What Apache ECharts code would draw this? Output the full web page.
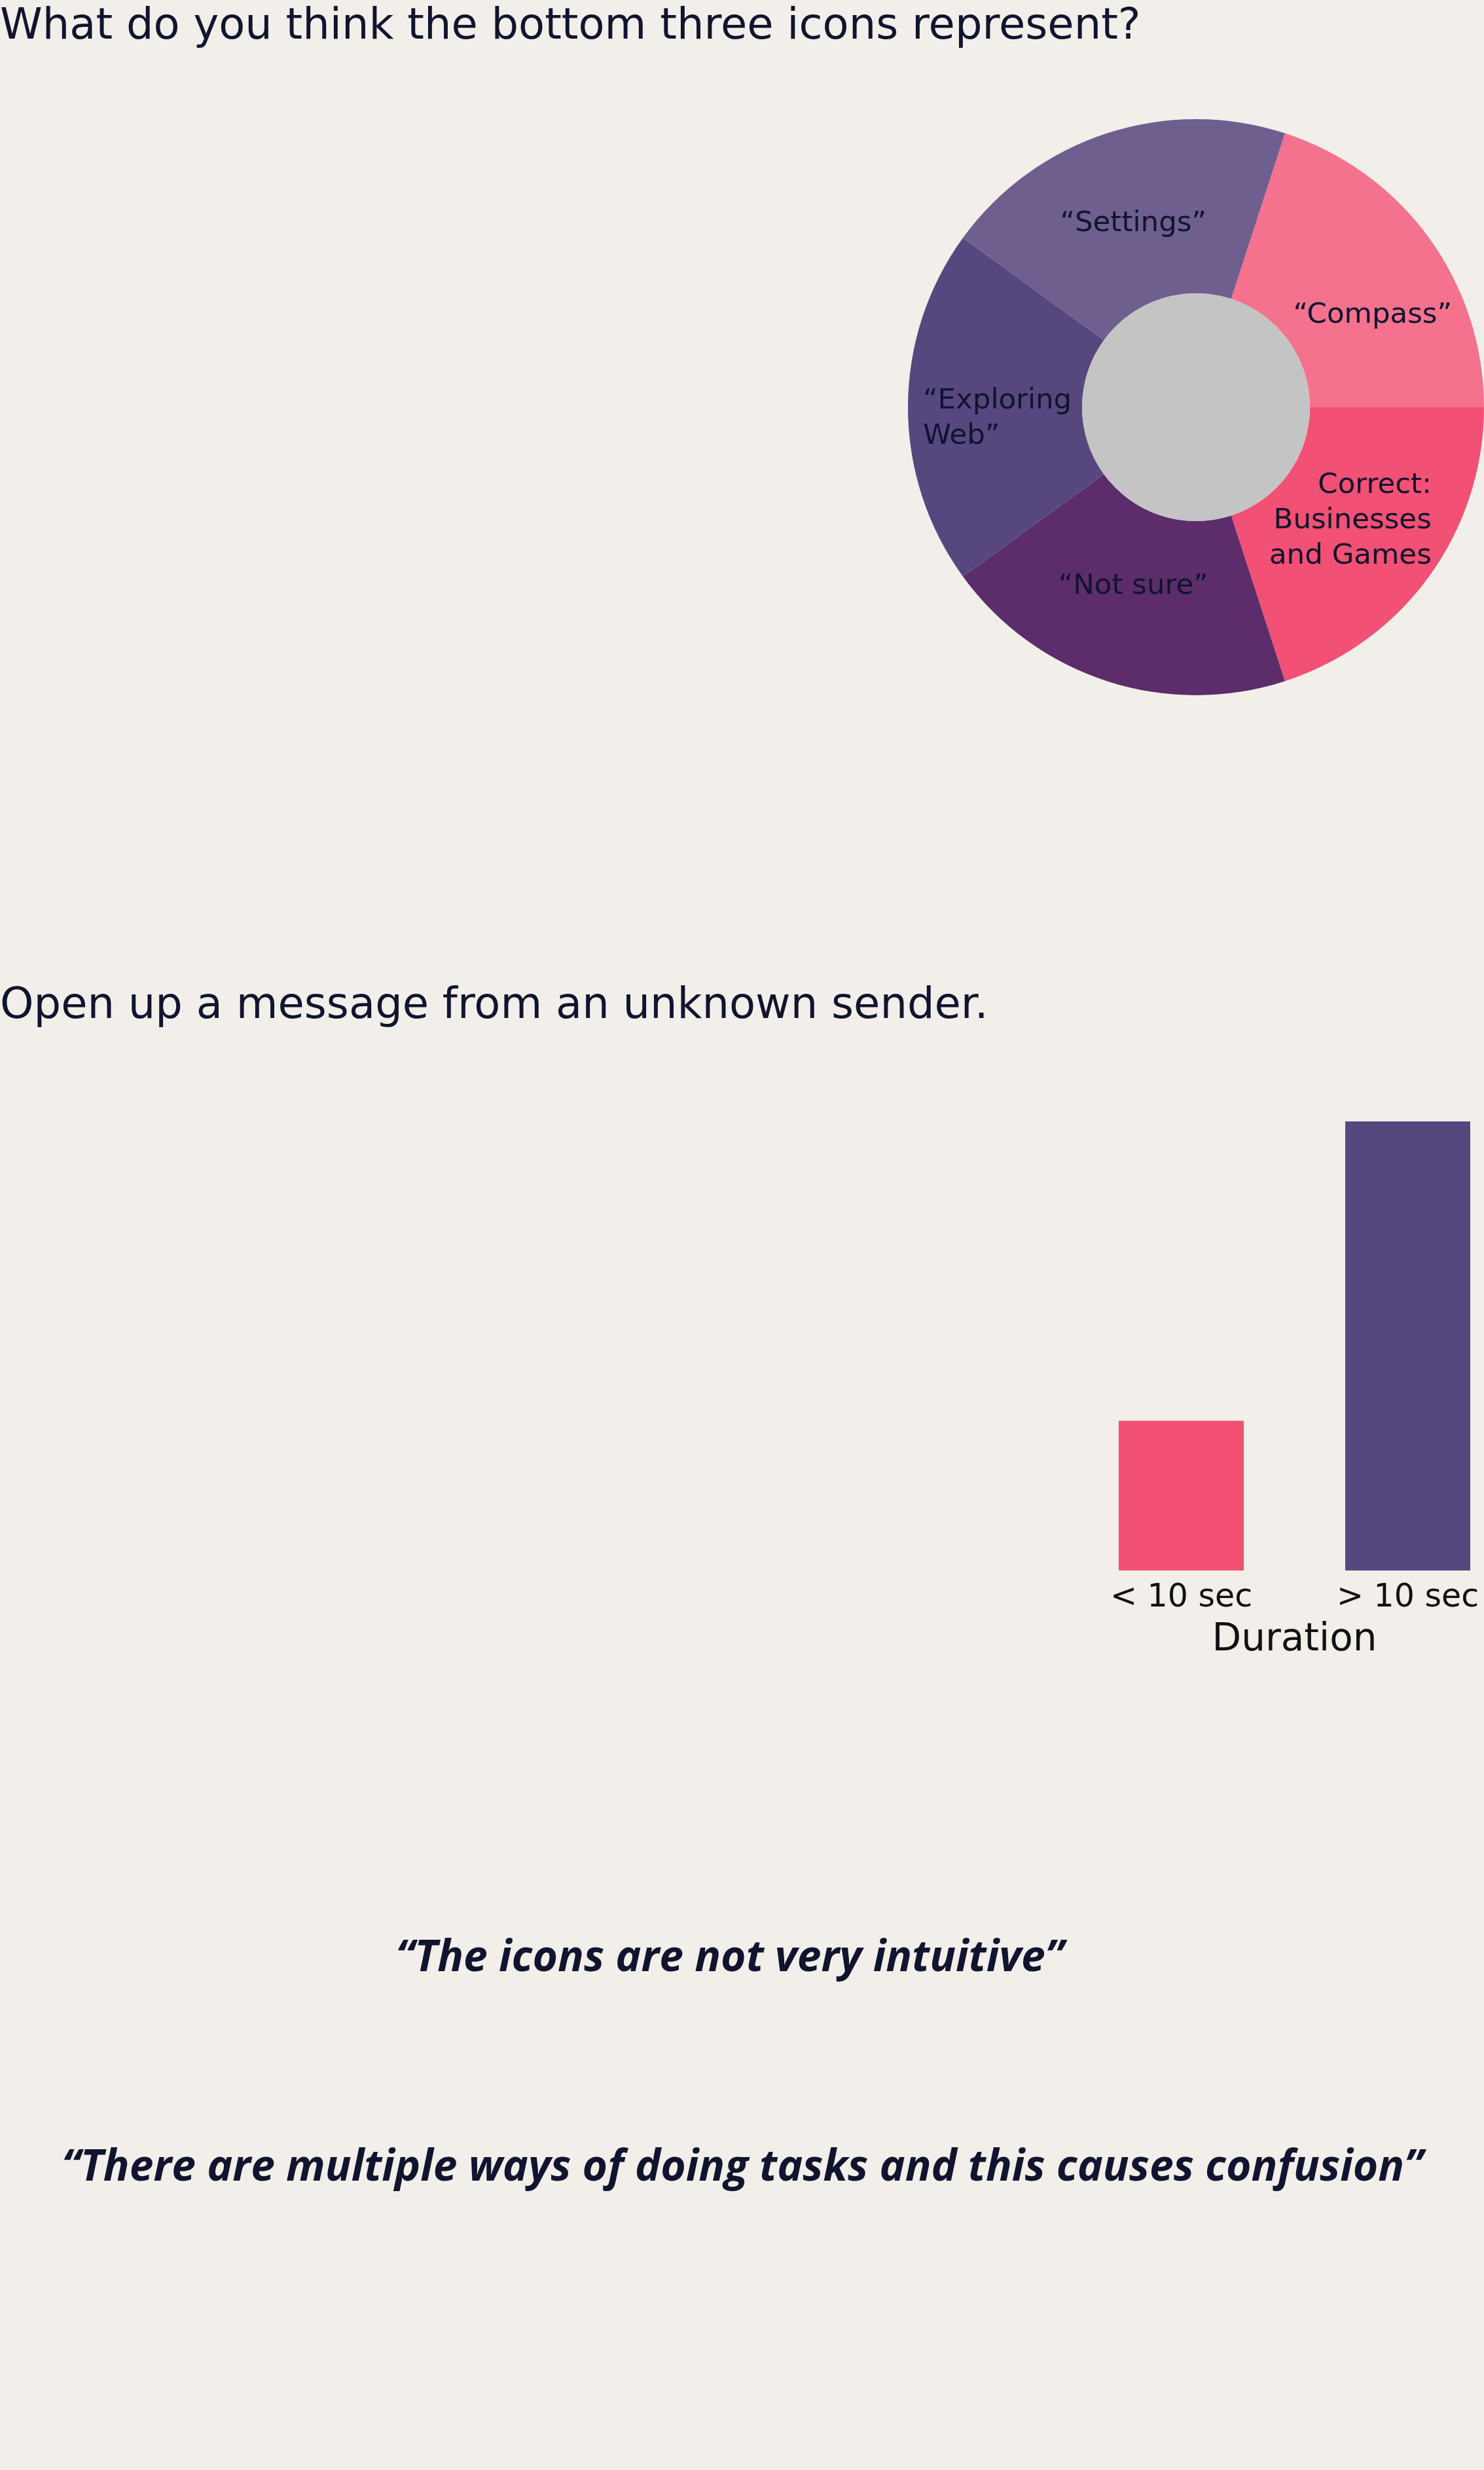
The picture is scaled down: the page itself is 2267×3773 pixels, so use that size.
<!DOCTYPE html>
<html>
<head>
<meta charset="utf-8">
<script src="https://cdn.jsdelivr.net/npm/echarts@6/dist/echarts.min.js"></script>
<style>
html,body{margin:0;padding:0;background:#F2EFEA;}
#chart{width:2267px;height:3773px;}
</style>
</head>
<body>
<div id="chart"></div>
<script>
// ---- data ----
const pieTitle = 'What do you think the bottom three icons represent?';
const pieCategories = ['“Compass”', 'Correct:\nBusinesses\nand Games', '“Not sure”', '“Exploring\nWeb”', '“Settings”'];
const pieValues = [1, 1, 1, 1, 1];

const barTitle = 'Open up a message from an unknown sender.';
const barCategories = ['< 10 sec', '> 10 sec'];
const barValues = [1, 3];
const barAxisName = 'Duration';

const quotes = ['“The icons are not very intuitive”', '“There are multiple ways of doing tasks and this causes confusion”'];

// ---- styles ----
const BG = '#F2EFEA';
const INK = '#10142E';
const pieColors = ['#F4728E', '#F25074', '#5C2D6A', '#56487F', '#6E5F8F'];
const barColors = ['#F25074', '#56487F'];
const FONT = 'DejaVu Sans';
const QFONT = 'Open Sans';
const LABEL_SIZE = 43.5;

const pieLabelStyles = [
  { offset: [19, 42] },
  { offset: [-17, -9], rich: 'r' },
  { offset: [0, -21] },
  { offset: [9, 18], rich: 'l' },
  { offset: [0, 15] }
];

function richWrap(text, key) {
  return text.split('\n').map(s => '{' + key + '|' + s + '}').join('\n');
}

const pieData = pieCategories.map((name, i) => {
  const st = pieLabelStyles[i];
  return {
    name: name,
    value: pieValues[i],
    itemStyle: { color: pieColors[i] },
    label: {
      offset: st.offset,
      formatter: st.rich ? richWrap(name, st.rich) : name
    }
  };
});

const chart = echarts.init(document.getElementById('chart'), null, { renderer: 'canvas' });
const labelRich = {
  r: { width: 252, align: 'right', fontSize: LABEL_SIZE, lineHeight: 54, color: INK, fontFamily: FONT },
  l: { width: 232, align: 'left', fontSize: LABEL_SIZE, lineHeight: 54, color: INK, fontFamily: FONT }
};

chart.setOption({
  backgroundColor: BG,
  animation: false,
  graphic: [
    { type: 'text', left: 0, top: 9, style: { text: pieTitle, fontSize: 65.5, fontFamily: FONT, fill: INK } },
    { type: 'text', left: 0, top: 1505, style: { text: barTitle, fontSize: 65.5, fontFamily: FONT, fill: INK } },
    { type: 'text', x: 1115, y: 2992, style: { text: quotes[0], fontSize: 66, fontFamily: QFONT, fontWeight: 'bold', fontStyle: 'italic', fill: INK, align: 'center', verticalAlign: 'middle' } },
    { type: 'text', x: 1134, y: 3312, style: { text: quotes[1], fontSize: 66, fontFamily: QFONT, fontWeight: 'bold', fontStyle: 'italic', fill: INK, align: 'center', verticalAlign: 'middle' } }
  ],
  grid: { left: 1631.5, width: 692, top: 1713, height: 686, outerBoundsMode: 'none', containLabel: false },
  xAxis: {
    type: 'category',
    data: barCategories,
    axisLine: { show: false },
    axisTick: { show: false },
    axisLabel: { fontSize: 49, color: '#111111', fontFamily: 'DejaVu Sans', margin: 18, hideOverlap: false },
    name: barAxisName,
    nameLocation: 'middle',
    nameGap: 78,
    nameTextStyle: { fontSize: 58, color: '#111111', fontFamily: 'DejaVu Sans' }
  },
  yAxis: { type: 'value', min: 0, max: 3, show: false, splitLine: { show: false } },
  series: [
    {
      type: 'pie',
      center: [1827, 622],
      radius: [174, 440],
      startAngle: 72,
      clockwise: true,
      silent: true,
      label: {
        show: true,
        position: 'inside',
        fontSize: LABEL_SIZE,
        lineHeight: 54,
        color: INK,
        fontFamily: FONT,
        rich: labelRich
      },
      labelLine: { show: false },
      itemStyle: { borderWidth: 0 },
      emphasis: { disabled: true },
      data: pieData
    },
    {
      type: 'pie',
      center: [1827, 622],
      radius: [0, 174],
      silent: true,
      label: { show: false },
      labelLine: { show: false },
      emphasis: { disabled: true },
      data: [{ value: 1, name: 'center', itemStyle: { color: '#C4C4C4' } }]
    },
    {
      type: 'bar',
      barWidth: 191,
      silent: true,
      data: barValues.map((v, i) => ({ value: v, itemStyle: { color: barColors[i] } }))
    }
  ]
});
</script>
</body>
</html>
